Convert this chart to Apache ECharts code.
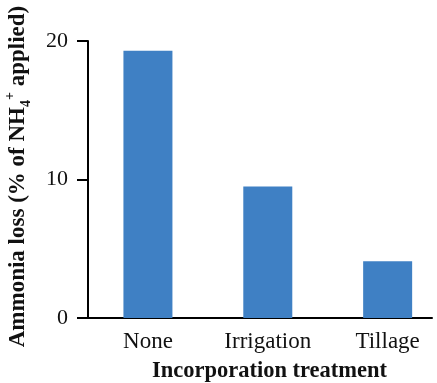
<!DOCTYPE html>
<html>
<head>
<meta charset="utf-8">
<script src="https://cdn.jsdelivr.net/npm/echarts@6/dist/echarts.min.js"></script>
<style>
  html, body { margin: 0; padding: 0; background: #fff; }
  #box { width: 437px; height: 383px; }
</style>
</head>
<body>
<div id="box"></div>
<script>
// data
let categories = ['None', 'Irrigation', 'Tillage'];
let lossValues = [19.3, 9.5, 4.1];
let yTicks = [0, 10, 20];

window.addEventListener('load', function () {
    let box = document.getElementById('box');
    let mychart = echarts.init(box);
    let font = 'Liberation Serif';

    let barData = categories.map((c, i) => [i, lossValues[i]]);

    let options = {
        backgroundColor: '#fff',
        animation: false,
        grid: { left: 88, right: 5, top: 41, bottom: 65, containLabel: false, outerBoundsMode: 'none' },
        xAxis: {
            type: 'value',
            min: -0.5,
            max: 2.37,
            splitLine: { show: false },
            axisTick: { show: false },
            axisLine: { show: true, onZero: false, lineStyle: { color: '#000', width: 2 } },
            axisLabel: {
                customValues: [0, 1, 2],
                formatter: v => categories[Math.round(v)],
                color: '#111',
                fontFamily: font,
                fontSize: 23,
                margin: 12
            },
            name: 'Incorporation treatment',
            nameLocation: 'middle',
            nameGap: 42,
            nameTextStyle: {
                color: '#111',
                fontFamily: font,
                fontWeight: 'bold',
                fontSize: 22.5,
                padding: [0, 0, 0, 19]
            }
        },
        yAxis: {
            type: 'value',
            min: yTicks[0],
            max: yTicks[yTicks.length - 1],
            interval: 10,
            splitLine: { show: false },
            axisLine: { show: true, onZero: false, lineStyle: { color: '#000', width: 2 } },
            axisTick: { show: true, inside: false, length: 11, lineStyle: { color: '#000', width: 2 } },
            axisLabel: { color: '#111', fontFamily: font, fontSize: 22, margin: 20 },
            name: '{b|Ammonia loss (% of NH}{sub|4}{sup|+}{b| applied)}',
            nameLocation: 'middle',
            nameRotate: 90,
            nameGap: 55,
            nameTextStyle: {
                padding: [0, 0, 0, 6],
                rich: {
                    b: { fontFamily: font, fontWeight: 'bold', fontSize: 23, color: '#111', lineHeight: 30 },
                    sub: { fontFamily: font, fontWeight: 'bold', fontSize: 14, color: '#111', verticalAlign: 'bottom', lineHeight: 14 },
                    sup: { fontFamily: font, fontWeight: 'bold', fontSize: 14, color: '#111', verticalAlign: 'top', lineHeight: 14 }
                }
            }
        },
        series: [
            {
                name: 'Ammonia loss',
                type: 'bar',
                barWidth: 49,
                itemStyle: { color: '#3f80c4' },
                data: barData
            }
        ]
    };

    mychart.setOption(options);
});
</script>
</body>
</html>
